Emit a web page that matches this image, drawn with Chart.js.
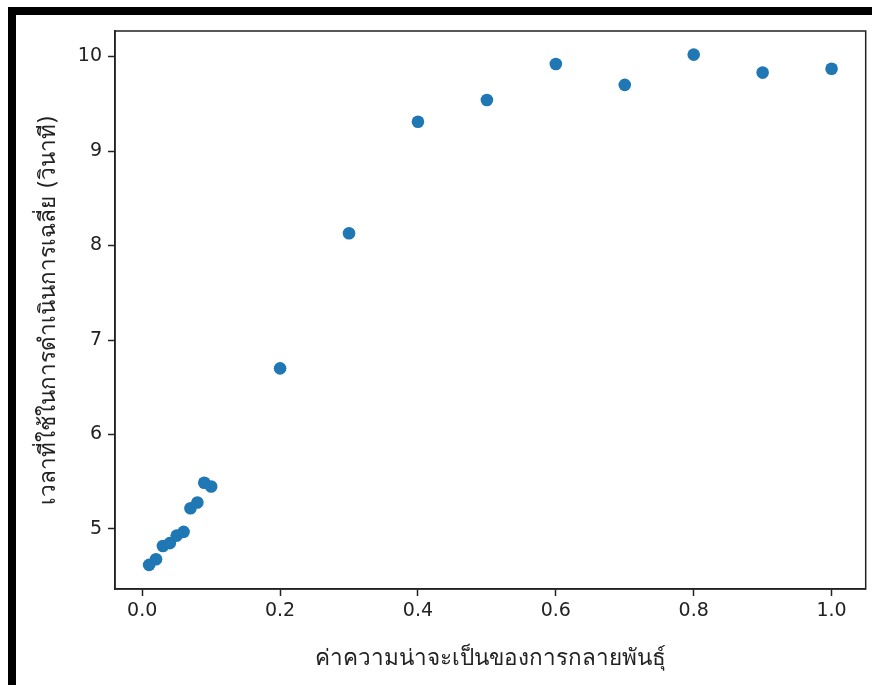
<!DOCTYPE html>
<html>
<head>
<meta charset="utf-8">
<script src="https://cdn.jsdelivr.net/npm/chart.js@4"></script>
<style>
  html, body { margin: 0; padding: 0; background: #fff; }
  #frame {
    position: absolute; left: 8px; top: 7px; width: 864px; height: 678px;
    border-left: 8px solid #000; border-top: 8px solid #000;
    box-sizing: border-box;
  }
  #wrap { position: absolute; left: 0; top: 0; width: 872px; height: 685px; }
</style>
</head>
<body>
<div id="frame"></div>
<div id="wrap"><canvas id="chart"></canvas></div>
<script>
// mutation probability vs average running time
const mutationProb = [0.01, 0.02, 0.03, 0.04, 0.05, 0.06, 0.07, 0.08, 0.09, 0.10,
  0.2, 0.3, 0.4, 0.5, 0.6, 0.7, 0.8, 0.9, 1.0];
const avgTime = [4.62, 4.68, 4.82, 4.85, 4.93, 4.97, 5.22, 5.28, 5.49, 5.45,
  6.70, 8.13, 9.31, 9.54, 9.92, 9.70, 10.02, 9.83, 9.87];

const xTicks = [0.0, 0.2, 0.4, 0.6, 0.8, 1.0];
const yTicks = [5, 6, 7, 8, 9, 10];

const xLabel = "ค่าความน่าจะเป็นของการกลายพันธุ์";
const yLabel = "เวลาที่ใช้ในการดำเนินการเฉลี่ย (วินาที)";

let points = [];
for (let i = 0; i < mutationProb.length; i++) {
  points.push({ x: mutationProb[i], y: avgTime[i] });
}

const font = "'DejaVu Sans', sans-serif";

// box around the plot area like matplotlib spines
const boxPlugin = {
  id: "box",
  afterDraw(chart) {
    const a = chart.chartArea;
    const ctx = chart.ctx;
    ctx.save();
    ctx.strokeStyle = "#222";
    ctx.lineWidth = 1.5;
    ctx.strokeRect(a.left, a.top, a.right - a.left, a.bottom - a.top);
    ctx.restore();
  }
};

new Chart(document.getElementById("chart"), {
  type: "scatter",
  data: {
    datasets: [{
      data: points,
      backgroundColor: "#1f77b4",
      borderColor: "#1f77b4",
      borderWidth: 0,
      pointRadius: 6.3,
      pointHoverRadius: 6.3
    }]
  },
  options: {
    responsive: true,
    maintainAspectRatio: false,
    animation: false,
    layout: { padding: { top: 31, right: 6, left: 0, bottom: 0 } },
    plugins: { legend: { display: false }, tooltip: { enabled: false } },
    scales: {
      x: {
        type: "linear",
        min: -0.0395,
        max: 1.0495,
        afterBuildTicks(scale) {
          scale.ticks = xTicks.map(v => ({ value: v }));
        },
        afterFit(scale) { scale.height = 96; },
        ticks: {
          color: "#222",
          font: { family: font, size: 19 },
          padding: 4,
          maxRotation: 0,
          callback: v => v.toFixed(1)
        },
        grid: { drawOnChartArea: false, tickLength: 7, tickColor: "#222", tickWidth: 1.5 },
        border: { color: "#222", width: 1.5 },
        title: {
          display: true,
          text: xLabel,
          color: "#222",
          font: { family: font, size: 22.5 },
          padding: { top: 0, bottom: 12 }
        }
      },
      y: {
        type: "linear",
        min: 4.365,
        max: 10.27,
        afterBuildTicks(scale) {
          scale.ticks = yTicks.map(v => ({ value: v }));
        },
        afterFit(scale) { scale.width = 115; },
        ticks: {
          color: "#222",
          font: { family: font, size: 19 },
          padding: 6,
          callback: v => String(v)
        },
        grid: { drawOnChartArea: false, tickLength: 7, tickColor: "#222", tickWidth: 1.5 },
        border: { color: "#222", width: 1.5 },
        title: {
          display: true,
          text: yLabel,
          color: "#222",
          font: { family: font, size: 22.5 },
          padding: { top: 36, bottom: 0 }
        }
      }
    }
  },
  plugins: [boxPlugin]
});
</script>
</body>
</html>
